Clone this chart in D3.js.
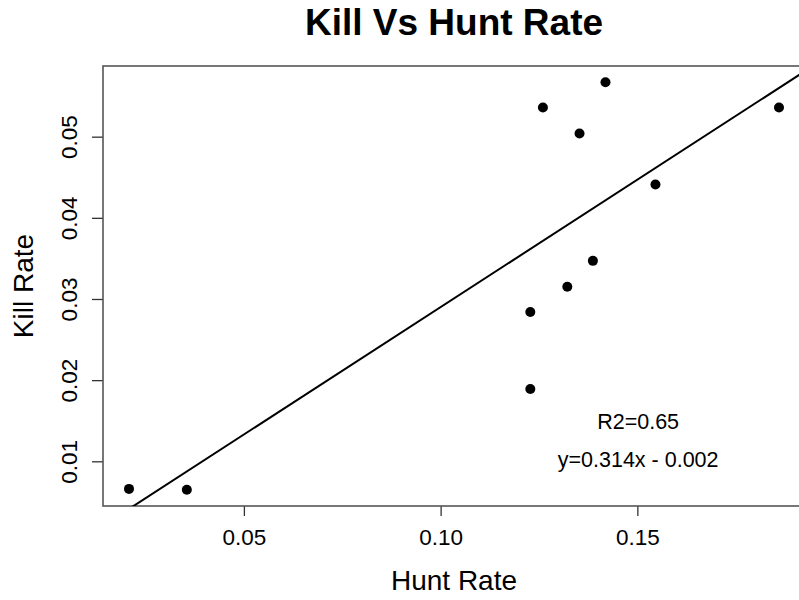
<!DOCTYPE html>
<html>
<head>
<meta charset="utf-8">
<script src="https://cdn.jsdelivr.net/npm/d3@7"></script>
<style>
  html, body { margin: 0; padding: 0; background: #fff; }
  svg { display: block; font-family: "Liberation Sans", Arial, sans-serif; }
</style>
</head>
<body>
<svg id="chart" width="799" height="600"></svg>
<script>
// Observations: hunt rate (x) and kill rate (y)
const huntRate = [0.0208, 0.0355, 0.1228, 0.1228, 0.1260, 0.1322, 0.1353, 0.1387, 0.1419, 0.1546, 0.1860];
const killRate = [0.0066, 0.0065, 0.0284, 0.0189, 0.0536, 0.0315, 0.0504, 0.0347, 0.0567, 0.0441, 0.0536];

// Fitted line coefficients and goodness of fit
const slope = 0.314;
const intercept = -0.0024;
const r2 = 0.65;

const xTicks = [0.05, 0.10, 0.15];
const yTicks = [0.01, 0.02, 0.03, 0.04, 0.05];

const fmt3 = d3.format(".3f");
const r2Label = "R2=" + d3.format(".2f")(r2);
const eqLabel = "y=" + fmt3(slope) + "x - " + fmt3(-intercept);

const svg = d3.select("#chart");
const plot = { left: 103, top: 66, right: 805, bottom: 506 };

// R-style axis ranges: data extent padded by 4% on each side
function padded(values) {
  const [lo, hi] = d3.extent(values);
  const pad = (hi - lo) * 0.04;
  return [lo - pad, hi + pad];
}

const x = d3.scaleLinear().domain(padded(huntRate)).range([plot.left, plot.right]);
const y = d3.scaleLinear().domain(padded(killRate)).range([plot.bottom, plot.top]);

svg.append("defs").append("clipPath").attr("id", "plotClip")
  .append("rect")
  .attr("x", plot.left).attr("y", plot.top)
  .attr("width", plot.right - plot.left).attr("height", plot.bottom - plot.top);

// Title
svg.append("text")
  .attr("x", (plot.left + plot.right) / 2)
  .attr("y", 35)
  .attr("text-anchor", "middle")
  .attr("font-size", 37)
  .attr("font-weight", "bold")
  .text("Kill Vs Hunt Rate");

// X axis
const xAxis = svg.append("g")
  .attr("transform", `translate(0,${plot.bottom})`)
  .call(d3.axisBottom(x).tickValues(xTicks).tickFormat(d3.format(".2f")).tickSize(10).tickPadding(13));
xAxis.select(".domain").remove();
xAxis.selectAll(".tick line").attr("stroke", "#333").attr("stroke-width", 1.3);
xAxis.selectAll(".tick text").attr("font-size", 22.5).attr("fill", "#000")
  .attr("font-family", "Liberation Sans, Arial, sans-serif");

// Y axis with rotated tick labels
const yAxis = svg.append("g")
  .attr("transform", `translate(${plot.left},0)`)
  .call(d3.axisLeft(y).tickValues(yTicks).tickFormat(d3.format(".2f")).tickSize(11));
yAxis.select(".domain").remove();
yAxis.selectAll(".tick line").attr("stroke", "#333").attr("stroke-width", 1.3);
yAxis.selectAll(".tick text")
  .attr("font-size", 22.5).attr("fill", "#000")
  .attr("font-family", "Liberation Sans, Arial, sans-serif")
  .attr("x", null).attr("dy", null)
  .attr("text-anchor", "middle")
  .attr("transform", "translate(-26,0) rotate(-90)");

// Plot frame
svg.append("rect")
  .attr("x", plot.left).attr("y", plot.top)
  .attr("width", plot.right - plot.left).attr("height", plot.bottom - plot.top)
  .attr("fill", "none").attr("stroke", "#555").attr("stroke-width", 1.6);

// Axis titles
svg.append("text")
  .attr("x", (plot.left + plot.right) / 2)
  .attr("y", 590)
  .attr("text-anchor", "middle")
  .attr("font-size", 28)
  .text("Hunt Rate");

svg.append("text")
  .attr("transform", `translate(33,${(plot.top + plot.bottom) / 2}) rotate(-90)`)
  .attr("text-anchor", "middle")
  .attr("font-size", 28)
  .text("Kill Rate");

// Regression line spanning the plot region
const [x0, x1] = x.domain();
svg.append("line")
  .attr("clip-path", "url(#plotClip)")
  .attr("x1", x(x0)).attr("y1", y(slope * x0 + intercept))
  .attr("x2", x(x1)).attr("y2", y(slope * x1 + intercept))
  .attr("stroke", "#000").attr("stroke-width", 2);

// Points
const pts = huntRate.map((h, i) => ({ h, k: killRate[i] }));
svg.append("g").selectAll("circle")
  .data(pts)
  .join("circle")
  .attr("cx", d => x(d.h))
  .attr("cy", d => y(d.k))
  .attr("r", 5)
  .attr("fill", "#000");

// Fit annotations
svg.append("text")
  .attr("x", x(0.1502)).attr("y", y(0.0140))
  .attr("text-anchor", "middle").attr("font-size", 21.5)
  .text(r2Label);
svg.append("text")
  .attr("x", x(0.1502)).attr("y", y(0.0093))
  .attr("text-anchor", "middle").attr("font-size", 21.5)
  .text(eqLabel);
</script>
</body>
</html>
